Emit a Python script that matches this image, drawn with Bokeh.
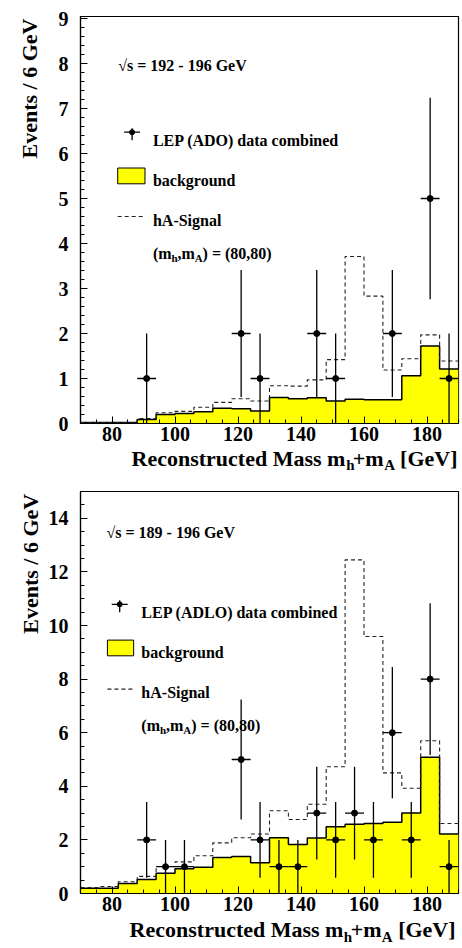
import math
from bokeh.plotting import figure
from bokeh.models import Range1d, SingleIntervalTicker, Label
from bokeh.layouts import column
from bokeh.embed import file_html
from bokeh.resources import INLINE

FONT = "Liberation Serif"
MID = 0.3375  # distance (in em) from the alphabetic baseline to the "middle" baseline

# ---------------- data ----------------
bin_edges = [70, 76, 82, 88, 94, 100, 106, 112, 118, 124, 130,
             136, 142, 148, 154, 160, 166, 172, 178, 184, 190]
bin_centers = [73, 79, 85, 91, 97, 103, 109, 115, 121, 127,
               133, 139, 145, 151, 157, 163, 169, 175, 181, 187]

# panel 1: sqrt(s) = 192 - 196 GeV (ADO)
bkg_192 = [0.02, 0.02, 0.02, 0.09, 0.20, 0.22, 0.26, 0.34, 0.33, 0.28,
           0.58, 0.55, 0.57, 0.50, 0.54, 0.53, 0.53, 1.06, 1.72, 1.21]
sig_192 = [0.02, 0.02, 0.02, 0.11, 0.24, 0.27, 0.36, 0.47, 0.55, 0.50,
           0.84, 0.83, 0.97, 1.42, 3.71, 2.83, 1.19, 1.44, 1.97, 1.39]
data_192 = [0, 0, 0, 1, 0, 0, 0, 0, 2, 1, 0, 0, 2, 1, 0, 0, 2, 0, 5, 1]
err_192 = [0, 0, 0, 1.0, 0, 0, 0, 0, 1.41, 1.0, 0, 0, 1.41, 1.0, 0, 0, 1.41, 0, 2.24, 1.0]

# panel 2: sqrt(s) = 189 - 196 GeV (ADLO)
bkg_189 = [0.20, 0.20, 0.37, 0.52, 0.76, 0.92, 0.98, 1.34, 1.38, 1.15,
           2.08, 1.83, 2.07, 2.49, 2.58, 2.61, 2.66, 3.00, 5.08, 2.22]
sig_189 = [0.22, 0.26, 0.44, 0.64, 1.01, 1.18, 1.41, 1.89, 2.08, 2.22,
           3.09, 2.76, 3.33, 4.73, 12.45, 9.59, 4.50, 3.93, 5.70, 2.61]
data_189 = [0, 0, 0, 2, 1, 1, 0, 0, 5, 2, 1, 1, 3, 2, 3, 2, 6, 2, 8, 1]
err_189 = [0, 0, 0, 1.41, 1.0, 1.0, 0, 0, 2.24, 1.41, 1.0, 1.0, 1.73, 1.41,
           1.73, 1.41, 2.45, 1.41, 2.83, 1.0]

y_title = "Events / 6 GeV"
# x title: main line with room left for the two subscripts (h and A)
GAP_H = "\u2004"   # three-per-em space, about the width of a small "h"
GAP_A = "\u2002"   # en space, about the width of a small "A"
x_title_main = "Reconstructed Mass m" + GAP_H + "+m" + GAP_A + " [GeV]"

# Times-Bold advance widths (per 1000 em)
W = {' ': 250, '(': 333, ')': 333, ',': 250, '=': 570, '+': 570, '-': 333,
     '/': 278, '[': 333, ']': 333, '\u221a': 549, GAP_H: 333, GAP_A: 500,
     'A': 722, 'D': 722, 'E': 667, 'G': 778, 'L': 667, 'M': 944, 'O': 778,
     'P': 611, 'R': 722, 'S': 556, 'V': 722,
     'a': 500, 'b': 556, 'c': 444, 'd': 556, 'e': 444, 'g': 500, 'h': 556,
     'i': 278, 'k': 556, 'l': 278, 'm': 833, 'n': 556, 'o': 500, 'r': 444,
     's': 389, 't': 333, 'u': 556, 'v': 500}


def tw(s, size):
    return sum(W.get(c, 500) for c in s) * size / 1000.0


def lab(x, y, text, size, baseline="alphabetic", **kw):
    return Label(x=x, y=y, text=text, text_font=FONT, text_font_style="bold",
                 text_font_size=f"{size}px", text_color="black",
                 text_baseline=baseline, **kw)


def put_text(p, fx, fy, x_px, base_py, segs):
    x = x_px
    for t, sz, dy in segs:
        lead = len(t) - len(t.lstrip(" "))
        x += lead * 250 * sz / 1000.0
        t2 = t.lstrip(" ")
        p.add_layout(lab(fx(x), fy(base_py + dy), t2, sz, text_align="left"))
        x += tw(t2, sz)


def make_panel(bkg, sig, data, err, ymax, borders, fx, fy, ystep, yminor,
               energy_text, legend_text, pos):
    left, right, top, bottom = borders
    p = figure(width=462, height=474, output_backend="svg", toolbar_location=None,
               x_range=Range1d(70, 190), y_range=Range1d(0, ymax),
               min_border_left=left, min_border_right=right,
               min_border_top=top, min_border_bottom=bottom,
               background_fill_color="white", border_fill_color="white")
    p.grid.visible = False
    p.outline_line_color = "black"
    p.outline_line_width = 1.2

    # background histogram
    y2 = bkg + [bkg[-1]]
    p.varea_step(x=bin_edges, y1=[0] * len(bin_edges), y2=y2, step_mode="after",
                 fill_color="#ffff00")
    p.step(x=bin_edges, y=y2, mode="after", line_color="black", line_width=1.5)
    # signal + background
    s2 = sig + [sig[-1]]
    p.step(x=bin_edges, y=s2, mode="after", line_color="#222222", line_width=1.1,
           line_dash="4 3")

    # data
    xs = [c for c, d in zip(bin_centers, data) if d > 0]
    ys = [d for d in data if d > 0]
    es = [e for e, d in zip(err, data) if d > 0]
    p.segment(x0=xs, y0=[max(y - e, 0) for y, e in zip(ys, es)], x1=xs,
              y1=[y + e for y, e in zip(ys, es)], line_color="black", line_width=1.3)
    p.segment(x0=[x - 3 for x in xs], y0=ys, x1=[x + 3 for x in xs], y1=ys,
              line_color="black", line_width=1.3)
    p.scatter(x=xs, y=ys, size=6, marker="circle", color="black")

    # axes
    for ax in (p.xaxis, p.yaxis):
        ax.axis_line_color = "black"
        ax.axis_line_width = 1.2
        ax.major_tick_in = 7
        ax.major_tick_out = 0
        ax.minor_tick_in = 4
        ax.minor_tick_out = 0
        ax.major_tick_line_color = "black"
        ax.minor_tick_line_color = "black"
        ax.major_label_text_font = FONT
        ax.major_label_text_font_style = "bold"
        ax.major_label_text_font_size = "20px"
        ax.major_label_text_color = "black"
    p.xaxis.ticker = SingleIntervalTicker(interval=20, num_minor_ticks=4)
    p.yaxis.ticker = SingleIntervalTicker(interval=ystep, num_minor_ticks=yminor)
    p.xaxis.major_label_standoff = 3
    p.yaxis.major_label_standoff = 12

    # titles outside the frame live in side panels (not clipped); middle baseline
    p.add_layout(lab(fx(36.5 - MID * 22), fy(pos["ytitle_top"]), y_title, 22,
                     baseline="middle", angle=math.pi / 2, text_align="right"), "left")
    xr, xb, sdy = pos["xtitle_right"], pos["xtitle_base"], pos["sub_dy"]
    p.add_layout(lab(fx(xr), fy(xb - MID * 22), x_title_main, 22, baseline="middle",
                     text_align="right"), "below")
    x_a = xr - tw(" [GeV]", 22) - tw(GAP_A, 22)
    x_h = x_a - tw("+m", 22) - tw(GAP_H, 22)
    p.add_layout(lab(fx(x_h), fy(xb + sdy - MID * 15), "h", 15, baseline="middle",
                     text_align="left"), "left")
    p.add_layout(lab(fx(x_a), fy(xb + sdy - MID * 15), "A", 15, baseline="middle",
                     text_align="left"), "left")

    # energy text
    put_text(p, fx, fy, pos["e_x"], pos["e_base"], [(energy_text, 16, 0)])

    # legend
    mx, my = pos["marker"]
    p.segment(x0=[fx(mx - 8)], y0=[fy(my)], x1=[fx(mx + 8)], y1=[fy(my)],
              line_color="black", line_width=1.3)
    p.segment(x0=[fx(mx)], y0=[fy(my - 4)], x1=[fx(mx)], y1=[fy(my + 8)],
              line_color="black", line_width=1.3)
    p.scatter(x=[fx(mx)], y=[fy(my)], size=5, marker="circle", color="black")
    put_text(p, fx, fy, pos["t_x"], pos["row1"], [(legend_text, 16, 0)])

    bx0, bx1, by0, by1 = pos["box"]
    p.quad(left=[fx(bx0)], right=[fx(bx1)], top=[fy(by0)], bottom=[fy(by1)],
           fill_color="#ffff00", line_color="black", line_width=1)
    put_text(p, fx, fy, pos["t_x"], pos["row2"], [("background", 16, 0)])

    p.line(x=[fx(bx0), fx(bx1)], y=[fy(pos["dash_y"])] * 2, line_color="#222222",
           line_width=1.1, line_dash="4 3")
    put_text(p, fx, fy, pos["t_x"], pos["row3"], [("hA-Signal", 16, 0)])

    put_text(p, fx, fy, pos["t_x"], pos["row4"],
             [("(m", 16, 0), ("h", 11, 4), (",m", 16, 0), ("A", 11, 4),
              (") = (80,80)", 16, 0)])
    return p


# panel 1 geometry (page px)
fx1 = lambda px: 70 + (px - 80) / 3.175
fy1 = lambda py: (423 - py) / 45.0
pos1 = dict(ytitle_top=18, xtitle_right=460, xtitle_base=465.5, sub_dy=4.5,
            e_x=118, e_base=65, marker=(132, 131.7), t_x=153, row1=139.5,
            box=(117.5, 145, 167.5, 183.3), row2=180, dash_y=216, row3=220, row4=253)
p1 = make_panel(bkg_192, sig_192, data_192, err_192, 407 / 45.0,
                (80, 1, 16, 51), fx1, fy1, 1, 5,
                "\u221as = 192 - 196 GeV", "LEP (ADO) data combined", pos1)

# panel 2 geometry (page px)
fx2 = lambda px: 70 + (px - 79) / 3.158
fy2 = lambda py: (892.7 - py) / 26.8
pos2 = dict(ytitle_top=493, xtitle_right=455, xtitle_base=935.7, sub_dy=6,
            e_x=105, e_base=531.7, marker=(118.3, 603.5), t_x=140, row1=611.7,
            box=(106, 132.3, 639.3, 655), row2=651.7, dash_y=688.3, row3=691.7, row4=725)
p2 = make_panel(bkg_189, sig_189, data_189, err_189, 15.0,
                (79, 4, 17, 55), fx2, fy2, 2, 4,
                "\u221as = 189 - 196 GeV", "LEP (ADLO) data combined", pos2)

layout = column(p1, p2, spacing=0)
open("out.html", "w").write(file_html(layout, INLINE))
